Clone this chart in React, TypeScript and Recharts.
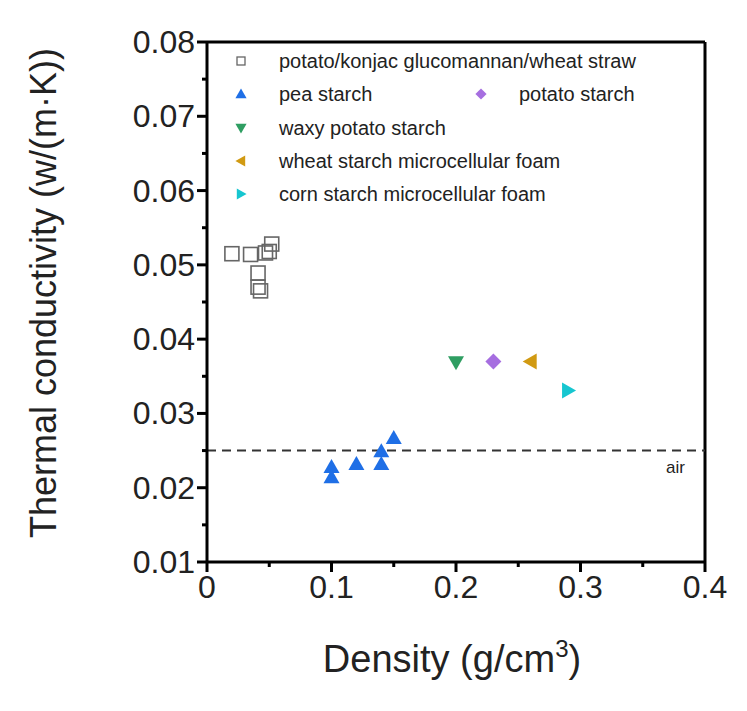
import React from 'react';
import {
  ScatterChart, Scatter, XAxis, YAxis, ReferenceLine,
} from 'recharts';

const blendData = [
  { x: 0.02, y: 0.0515 }, { x: 0.035, y: 0.0514 }, { x: 0.047, y: 0.0516 },
  { x: 0.05, y: 0.0518 }, { x: 0.052, y: 0.0528 }, { x: 0.041, y: 0.0489 },
  { x: 0.041, y: 0.047 }, { x: 0.043, y: 0.0465 },
];
const peaData = [
  { x: 0.1, y: 0.0228 }, { x: 0.1, y: 0.0214 }, { x: 0.12, y: 0.0232 },
  { x: 0.14, y: 0.0249 }, { x: 0.14, y: 0.0232 }, { x: 0.15, y: 0.0267 },
];
const waxyData = [{ x: 0.2, y: 0.0369 }];
const potatoData = [{ x: 0.23, y: 0.037 }];
const wheatData = [{ x: 0.26, y: 0.037 }];
const cornData = [{ x: 0.29, y: 0.0331 }];
const airValue = 0.025;

const xTicks = [0, 0.05, 0.1, 0.15, 0.2, 0.25, 0.3, 0.35, 0.4];
const yTicks = [0.01, 0.015, 0.02, 0.025, 0.03, 0.035, 0.04, 0.045, 0.05, 0.055, 0.06, 0.065, 0.07, 0.075, 0.08];

const FONT = 'Arial, "Liberation Sans", sans-serif';
const W = 747;
const H = 711;
const Y_W = 100;
const X_H = 60;

const isMajor = (v: number, step: number) => Math.abs(Math.round(v / step) * step - v) < 1e-9;

const XTick = (props: any) => {
  const { x, y, payload } = props;
  const major = isMajor(payload.value, 0.1);
  return (
    <g>
      <line x1={x} x2={x} y1={y - 8} y2={y - 8 + (major ? 10 : 5)} stroke="#000" strokeWidth={3} />
      {major && (
        <text x={x} y={y + 28} textAnchor="middle" fontSize={32} fontFamily={FONT} fill="#222">
          {String(+payload.value.toFixed(1))}
        </text>
      )}
    </g>
  );
};

const YTick = (props: any) => {
  const { x, y, payload } = props;
  const major = isMajor(payload.value, 0.01);
  return (
    <g>
      <line x1={x + 8} x2={x + 8 - (major ? 10 : 5)} y1={y} y2={y} stroke="#000" strokeWidth={3} />
      {major && (
        <text x={x - 4} y={y + 11} textAnchor="end" fontSize={32} fontFamily={FONT} fill="#222">
          {payload.value.toFixed(2)}
        </text>
      )}
    </g>
  );
};

const Square = (p: any) => (
  <rect x={p.cx - 7} y={p.cy - 7} width={14} height={14} fill="none" stroke="#666" strokeWidth={1.6} />
);
const triUp = (c: string) => (p: any) => (
  <path d={`M${p.cx},${p.cy - 8} L${p.cx + 8},${p.cy + 6} L${p.cx - 8},${p.cy + 6} Z`} fill={c} />
);
const triDown = (c: string) => (p: any) => (
  <path d={`M${p.cx},${p.cy + 8} L${p.cx + 8},${p.cy - 6} L${p.cx - 8},${p.cy - 6} Z`} fill={c} />
);
const triLeft = (c: string) => (p: any) => (
  <path d={`M${p.cx - 8},${p.cy} L${p.cx + 6},${p.cy - 8} L${p.cx + 6},${p.cy + 8} Z`} fill={c} />
);
const triRight = (c: string) => (p: any) => (
  <path d={`M${p.cx + 8},${p.cy} L${p.cx - 6},${p.cy - 8} L${p.cx - 6},${p.cy + 8} Z`} fill={c} />
);
const diamond = (c: string) => (p: any) => (
  <path d={`M${p.cx},${p.cy - 8} L${p.cx + 8},${p.cy} L${p.cx},${p.cy + 8} L${p.cx - 8},${p.cy} Z`} fill={c} />
);

const BLUE = '#1f6fe6';
const PURPLE = '#a66ee0';
const GREEN = '#2f9e62';
const GOLD = '#d19a12';
const CYAN = '#16c6d0';

const legendRows = [
  { label: 'potato/konjac glucomannan/wheat straw', shape: 'sq', color: '#666', x: 241, y: 61 },
  { label: 'pea starch', shape: 'up', color: BLUE, x: 241, y: 94 },
  { label: 'potato starch', shape: 'dia', color: PURPLE, x: 481, y: 94 },
  { label: 'waxy potato starch', shape: 'down', color: GREEN, x: 241, y: 128 },
  { label: 'wheat starch microcellular foam', shape: 'left', color: GOLD, x: 241, y: 161 },
  { label: 'corn starch microcellular foam', shape: 'right', color: CYAN, x: 241, y: 194 },
];

const LegendIcon = ({ shape, color }: { shape: string; color: string }) => {
  const p = { cx: 0, cy: 0 };
  if (shape === 'sq') return <rect x={-4} y={-4} width={8} height={8} fill="none" stroke={color} strokeWidth={1.3} />;
  let el: any;
  if (shape === 'up') el = triUp(color)(p);
  else if (shape === 'down') el = triDown(color)(p);
  else if (shape === 'left') el = triLeft(color)(p);
  else if (shape === 'right') el = triRight(color)(p);
  else el = diamond(color)(p);
  return <g transform="scale(0.7)">{el}</g>;
};

const AirLabel = (props: any) => {
  const vb = props.viewBox || {};
  return (
    <text x={vb.x + vb.width - 20} y={vb.y + 22} textAnchor="end" fontSize={17} fontFamily={FONT} fill="#222">
      air
    </text>
  );
};

export default function App() {
  return (
    <div style={{ position: 'absolute', left: 0, top: 0, width: W, height: H, background: '#fff', fontFamily: FONT }}>
      <ScatterChart width={W} height={H} margin={{ top: 42, right: 42, bottom: 149 - X_H, left: 207 - Y_W }}>
        <XAxis
          type="number" dataKey="x" domain={[0, 0.4]} ticks={xTicks} interval={0}
          axisLine={{ stroke: '#000', strokeWidth: 3 }} tickLine={false} tick={<XTick />} height={X_H}
        />
        <YAxis
          type="number" dataKey="y" domain={[0.01, 0.08]} ticks={yTicks} interval={0}
          axisLine={{ stroke: '#000', strokeWidth: 3 }} tickLine={false} tick={<YTick />} width={Y_W}
        />
        <ReferenceLine y={0.08} stroke="#000" strokeWidth={3} />
        <ReferenceLine x={0.4} stroke="#000" strokeWidth={3} />
        <ReferenceLine y={airValue} stroke="#333" strokeWidth={2} strokeDasharray="9 6" label={<AirLabel />} />
        <Scatter name="potato/konjac glucomannan/wheat straw" data={blendData} shape={Square} isAnimationActive={false} />
        <Scatter name="pea starch" data={peaData} shape={triUp(BLUE)} isAnimationActive={false} />
        <Scatter name="potato starch" data={potatoData} shape={diamond(PURPLE)} isAnimationActive={false} />
        <Scatter name="waxy potato starch" data={waxyData} shape={triDown(GREEN)} isAnimationActive={false} />
        <Scatter name="wheat starch microcellular foam" data={wheatData} shape={triLeft(GOLD)} isAnimationActive={false} />
        <Scatter name="corn starch microcellular foam" data={cornData} shape={triRight(CYAN)} isAnimationActive={false} />
      </ScatterChart>

      <svg width={W} height={H} style={{ position: 'absolute', left: 0, top: 0, pointerEvents: 'none' }}>
        {legendRows.map((r) => (
          <g key={r.label}>
            <g transform={`translate(${r.x},${r.y})`}>
              <LegendIcon shape={r.shape} color={r.color} />
            </g>
            <text x={r.x + 38} y={r.y + 7} fontSize={20} fontFamily={FONT} fill="#222">{r.label}</text>
          </g>
        ))}
        <text
          transform="translate(56,293) rotate(-90)" textAnchor="middle"
          fontSize={36} fontFamily={FONT} fill="#222"
        >
          Thermal conductivity (w/(m·K))
        </text>
        <text x={452} y={672} textAnchor="middle" fontSize={38} fontFamily={FONT} fill="#222">
          Density (g/cm<tspan dy={-15} fontSize={24}>3</tspan>
          <tspan dy={15}>)</tspan>
        </text>
      </svg>
    </div>
  );
}
